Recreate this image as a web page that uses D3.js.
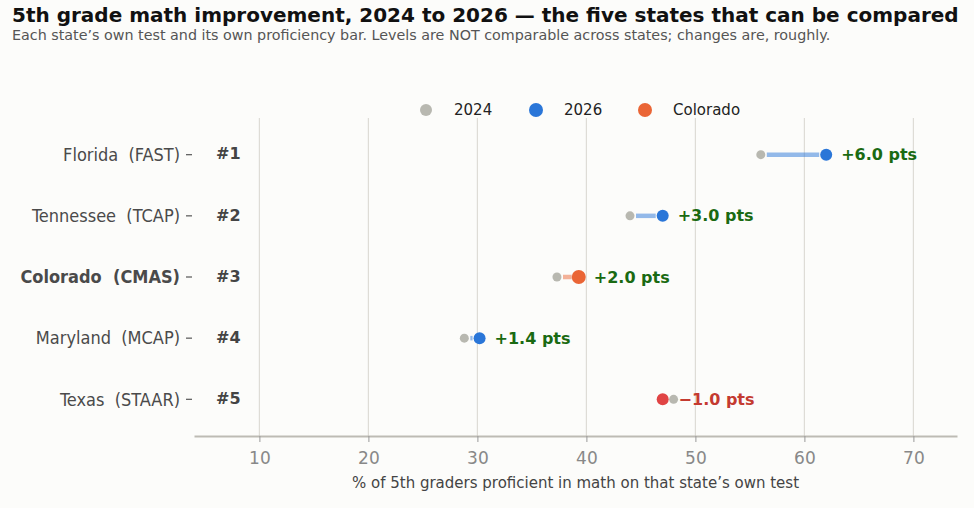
<!DOCTYPE html>
<html>
<head>
<meta charset="utf-8">
<script src="https://cdn.jsdelivr.net/npm/d3@7"></script>
<style>
  body { margin: 0; background: #fcfcfa; }
  svg { display: block; font-family: "DejaVu Sans", sans-serif; }
  text { white-space: pre; }
</style>
</head>
<body>
<div id="chart"></div>
<script>
const states = ["Florida  (FAST)", "Tennessee  (TCAP)", "Colorado  (CMAS)", "Maryland  (MCAP)", "Texas  (STAAR)"];
const ranks = ["#1", "#2", "#3", "#4", "#5"];
const values2024 = [56.0, 44.0, 37.3, 28.8, 48.0];
const values2026 = [62.0, 47.0, 39.3, 30.2, 47.0];
const changeLabels = ["+6.0 pts", "+3.0 pts", "+2.0 pts", "+1.4 pts", "\u22121.0 pts"];
const highlight = "Colorado  (CMAS)";
const xTicks = [10, 20, 30, 40, 50, 60, 70];
const legendItems = ["2024", "2026", "Colorado"];

const width = 974, height = 508;
const margin = { top: 118, right: 17, bottom: 72, left: 194 };

const svg = d3.select("#chart").append("svg")
    .attr("width", width)
    .attr("height", height);

svg.append("rect").attr("width", width).attr("height", height).attr("fill", "#fcfcfa");

const x = d3.scaleLinear().domain([4, 74]).range([margin.left, width - margin.right]);
const y = d3.scaleLinear().domain([-0.6, 4.6]).range([margin.top, height - margin.bottom]);

const colors = { y2024: "#b8b8b0", y2026: "#2a76d8", co: "#ea6535", drop: "#e04444" };

// title
svg.append("text").attr("x", 12).attr("y", 22)
    .attr("font-size", 20).attr("font-weight", "bold").attr("fill", "#111")
    .text("5th grade math improvement, 2024 to 2026 \u2014 the five states that can be compared");
svg.append("text").attr("x", 12).attr("y", 40)
    .attr("font-size", 14.3).attr("fill", "#555")
    .text("Each state\u2019s own test and its own proficiency bar. Levels are NOT comparable across states; changes are, roughly.");

// grid
svg.append("g").selectAll("line").data(xTicks).enter().append("line")
    .attr("x1", d => x(d)).attr("x2", d => x(d))
    .attr("y1", margin.top).attr("y2", height - margin.bottom)
    .attr("stroke", "#dedcd6").attr("stroke-width", 1.2);

// x axis
const xAxis = svg.append("g")
    .attr("transform", `translate(0,${height - margin.bottom})`)
    .call(d3.axisBottom(x).tickValues(xTicks).tickSize(6).tickSizeOuter(0).tickPadding(10));
xAxis.select(".domain").attr("stroke", "#bdbbb4").attr("stroke-width", 2);
xAxis.selectAll(".tick line").attr("stroke", "#999");
xAxis.selectAll(".tick text").attr("fill", "#888").attr("font-size", 17)
    .attr("font-family", "DejaVu Sans, sans-serif");

svg.append("text")
    .attr("x", (margin.left + width - margin.right) / 2).attr("y", 488)
    .attr("text-anchor", "middle").attr("font-size", 15).attr("fill", "#444")
    .text("% of 5th graders proficient in math on that state\u2019s own test");

// y axis labels
const yg = svg.append("g");
states.forEach((s, i) => {
    yg.append("line")
        .attr("x1", 186).attr("x2", 192)
        .attr("y1", y(i)).attr("y2", y(i))
        .attr("stroke", "#555").attr("stroke-width", 1.2);
    yg.append("text")
        .attr("x", 180).attr("y", y(i)).attr("dy", "0.35em")
        .attr("text-anchor", "end")
        .attr("font-family", "DejaVu Sans Condensed, DejaVu Sans, sans-serif")
        .attr("font-stretch", "condensed")
        .attr("font-size", 18)
        .attr("font-weight", s === highlight ? "bold" : "normal")
        .attr("fill", "#4a4a4a")
        .text(s);
    yg.append("text")
        .attr("x", 216).attr("y", y(i)).attr("dy", "0.3em")
        .attr("font-size", 16).attr("font-weight", "bold").attr("fill", "#444")
        .text(ranks[i]);
});

// dumbbells
const rows = states.map((s, i) => ({
    state: s, i, v0: values2024[i], v1: values2026[i], label: changeLabels[i]
}));

rows.forEach(d => {
    const isCo = d.state === highlight;
    const up = d.v1 >= d.v0;
    const endColor = isCo ? colors.co : (up ? colors.y2026 : colors.drop);
    const r1 = isCo ? 7 : 6;
    const x0 = x(d.v0), x1 = x(d.v1);
    const dir = up ? 1 : -1;
    const a = x0 + dir * 6, b = x1 - dir * 7;
    if ((b - a) * dir > 0) {
        svg.append("line")
            .attr("x1", a).attr("x2", b)
            .attr("y1", y(d.i)).attr("y2", y(d.i))
            .attr("stroke", endColor).attr("stroke-opacity", 0.5)
            .attr("stroke-width", 4.5);
    }
    svg.append("circle").attr("cx", x0).attr("cy", y(d.i)).attr("r", 4.5)
        .attr("fill", colors.y2024);
    svg.append("circle").attr("cx", x1).attr("cy", y(d.i)).attr("r", r1)
        .attr("fill", endColor);
    const lx = up ? x(Math.max(d.v0, d.v1)) + 15 : x(Math.max(d.v0, d.v1)) + 5;
    svg.append("text")
        .attr("x", lx).attr("y", y(d.i)).attr("dy", "0.35em")
        .attr("font-size", 16).attr("font-weight", "bold")
        .attr("fill", up ? "#1a6a12" : "#c43a30")
        .text(d.label);
});

// legend
const legendColors = [colors.y2024, colors.y2026, colors.co];
const legendX = [426, 536, 645];
legendItems.forEach((t, i) => {
    svg.append("circle").attr("cx", legendX[i]).attr("cy", 110).attr("r", i === 0 ? 6 : 7)
        .attr("fill", legendColors[i]);
    svg.append("text").attr("x", legendX[i] + 28).attr("y", 110).attr("dy", "0.35em")
        .attr("font-size", 15).attr("fill", "#222").text(t);
});
</script>
</body>
</html>
